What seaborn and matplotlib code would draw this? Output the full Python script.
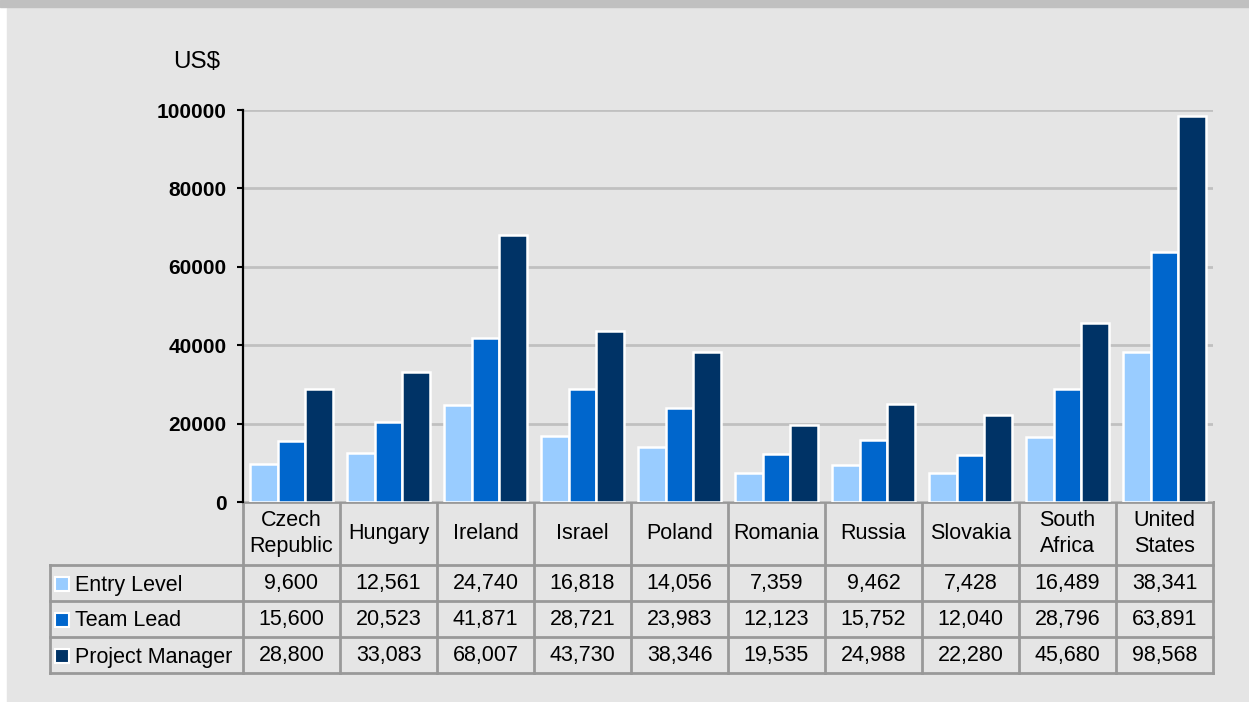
import pandas as pd
import matplotlib
matplotlib.use("Agg")
import matplotlib.pyplot as plt
from matplotlib.patches import Rectangle
import seaborn as sns

countries = ["Czech\nRepublic", "Hungary", "Ireland", "Israel", "Poland",
             "Romania", "Russia", "Slovakia", "South\nAfrica", "United\nStates"]
levels = ["Entry Level", "Team Lead", "Project Manager"]
entry_level = [9600, 12561, 24740, 16818, 14056, 7359, 9462, 7428, 16489, 38341]
team_lead = [15600, 20523, 41871, 28721, 23983, 12123, 15752, 12040, 28796, 63891]
project_manager = [28800, 33083, 68007, 43730, 38346, 19535, 24988, 22280, 45680, 98568]
colors = ["#99ccff", "#0066cc", "#003366"]

plt.rcParams['font.family'] = ['Liberation Sans', 'DejaVu Sans']

series = [entry_level, team_lead, project_manager]
rows = []
for lvl, vals in zip(levels, series):
    for c, v in zip(countries, vals):
        rows.append({"Country": c, "Level": lvl, "Salary": v})
df = pd.DataFrame(rows)

W, H = 1249, 702
fig = plt.figure(figsize=(W / 100, H / 100), dpi=100)
fig.patch.set_facecolor("white")

# plot area in pixels
px0, px1 = 243, 1213
py_top, py_bot = 110, 502

# background / table layer
bg = fig.add_axes([0, 0, 1, 1])
bg.set_xlim(0, W)
bg.set_ylim(H, 0)
bg.axis("off")
bg.set_zorder(0)
bg.add_patch(Rectangle((7, 8), W - 7, H - 8, color="#e5e5e5", zorder=0))
bg.add_patch(Rectangle((0, 0), W, 7, color="#c0c0c0", zorder=0))
bg.text(197, 62, "US$", fontsize=17.5, ha="center", va="center")

ax = fig.add_axes([px0 / W, (H - py_bot) / H, (px1 - px0) / W, (py_bot - py_top) / H])
ax.set_zorder(1)
ax.patch.set_alpha(0)
sns.barplot(data=df, x="Country", y="Salary", hue="Level", palette=colors,
            saturation=1, width=0.85, edgecolor="white", linewidth=1.8,
            legend=False, ax=ax)
ax.set_ylim(0, 100000)
ax.set_xlim(-0.5, len(countries) - 0.5)
ax.set_yticks(range(0, 100001, 20000))
ax.set_yticklabels([str(t) for t in range(0, 100001, 20000)], fontweight="bold", fontsize=15)
ax.set_xticks([])
ax.set_xlabel("")
ax.set_ylabel("")
ax.yaxis.grid(True, color="#c0c0c0", linewidth=2)
ax.set_axisbelow(True)
for s in ["top", "right"]:
    ax.spines[s].set_visible(False)
ax.spines["bottom"].set_visible(False)
ax.spines["left"].set_color("black")
ax.spines["left"].set_linewidth(1.6)
ax.tick_params(axis="y", direction="out", length=4, width=1.5, color="black", pad=8)

# data table under the chart
n = len(countries)
cw = (px1 - px0) / n
tx0 = 50
head_bot = 565
rh = 36
tab_bot = head_bot + rh * len(levels)
lc = "#999999"
lw = 2
bg.plot([px0, px1], [py_bot, py_bot], color=lc, lw=lw, zorder=2)
for i in range(n + 1):
    x = px0 + i * cw
    bg.plot([x, x], [py_bot, tab_bot], color=lc, lw=lw, zorder=2)
bg.plot([tx0, tx0], [head_bot, tab_bot], color=lc, lw=lw, zorder=2)
for j in range(len(levels) + 1):
    y = head_bot + j * rh
    bg.plot([tx0, px1], [y, y], color=lc, lw=lw, zorder=2)

for i, c in enumerate(countries):
    bg.text(px0 + (i + 0.5) * cw, (py_bot + head_bot) / 2, c, fontsize=15.5,
            ha="center", va="center", linespacing=1.3, zorder=3)

for j, (lvl, vals) in enumerate(zip(levels, series)):
    yc = head_bot + (j + 0.5) * rh
    bg.add_patch(Rectangle((55, yc - 6), 14, 14, facecolor=colors[j],
                           edgecolor="white", lw=1.5, zorder=3))
    bg.text(75, yc + 2, lvl, fontsize=15.5, ha="left", va="center", zorder=3)
    for i, v in enumerate(vals):
        bg.text(px0 + (i + 0.5) * cw, yc, f"{v:,}", fontsize=15.5,
                ha="center", va="center", zorder=3)

fig.savefig("out.png", dpi=100, facecolor=fig.get_facecolor())
